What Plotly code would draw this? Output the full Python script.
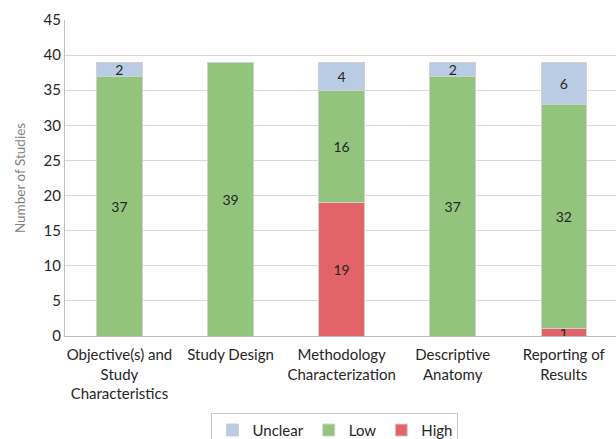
import plotly.graph_objects as go

categories = [
    "Objective(s) and<br>Study<br>Characteristics",
    "Study Design",
    "Methodology<br>Characterization",
    "Descriptive<br>Anatomy",
    "Reporting of<br>Results",
]
high = [0, 0, 19, 0, 1]
low = [37, 39, 16, 37, 32]
unclear = [2, 0, 4, 2, 6]
y_ticks = [0, 5, 10, 15, 20, 25, 30, 35, 40, 45]

colors = {"Unclear": "#b9cce4", "Low": "#93c47d", "High": "#e26468"}
FONT = "Lato, 'Open Sans', sans-serif"

fig = go.Figure()
for name, vals in [("High", high), ("Low", low), ("Unclear", unclear)]:
    fig.add_trace(go.Bar(
        x=list(range(len(categories))),
        y=vals,
        name=name,
        width=0.41,
        marker=dict(color=colors[name], line=dict(color="#d0d0d0", width=1)),
        text=[str(v) if v else "" for v in vals],
        textposition="inside",
        insidetextanchor="middle",
        textangle=0,
        textfont=dict(color="#262626", size=14, family=FONT),
        hoverinfo="skip",
    ))

fig.update_layout(
    barmode="stack",
    width=616, height=439,
    margin=dict(l=65, r=0, t=20, b=103, autoexpand=False),
    plot_bgcolor="white", paper_bgcolor="white",
    font=dict(family=FONT, color="#262626"),
    uniformtext=dict(minsize=14, mode="show"),
    legend=dict(
        orientation="h", x=0.49, xanchor="center", y=-0.243, yanchor="top",
        traceorder="reversed",
        bordercolor="#c8c8c8", borderwidth=1,
        font=dict(size=15, family=FONT, color="#262626"),
        itemwidth=30,
    ),
    showlegend=True,
)
fig.update_xaxes(
    range=[-0.49, 4.47],
    tickvals=list(range(len(categories))),
    ticktext=categories,
    tickfont=dict(size=15, family=FONT, color="#262626"),
    ticklabelstandoff=5,
    showline=True, linecolor="#bfbfbf", linewidth=1,
    showgrid=False, ticks="", fixedrange=True, automargin=False,
)
fig.update_yaxes(
    range=[0, 45],
    tickvals=y_ticks,
    tickfont=dict(size=15, family=FONT, color="#262626"),
    showgrid=True, gridcolor="#d9d9d9", gridwidth=1,
    showline=True, linecolor="#bfbfbf", linewidth=1,
    zeroline=False, ticks="", ticklen=0, automargin=False,
    title=dict(text="Number of Studies", font=dict(size=13.5, family=FONT, color="#7f7f7f"), standoff=14),
)

fig.write_html("out.html")
